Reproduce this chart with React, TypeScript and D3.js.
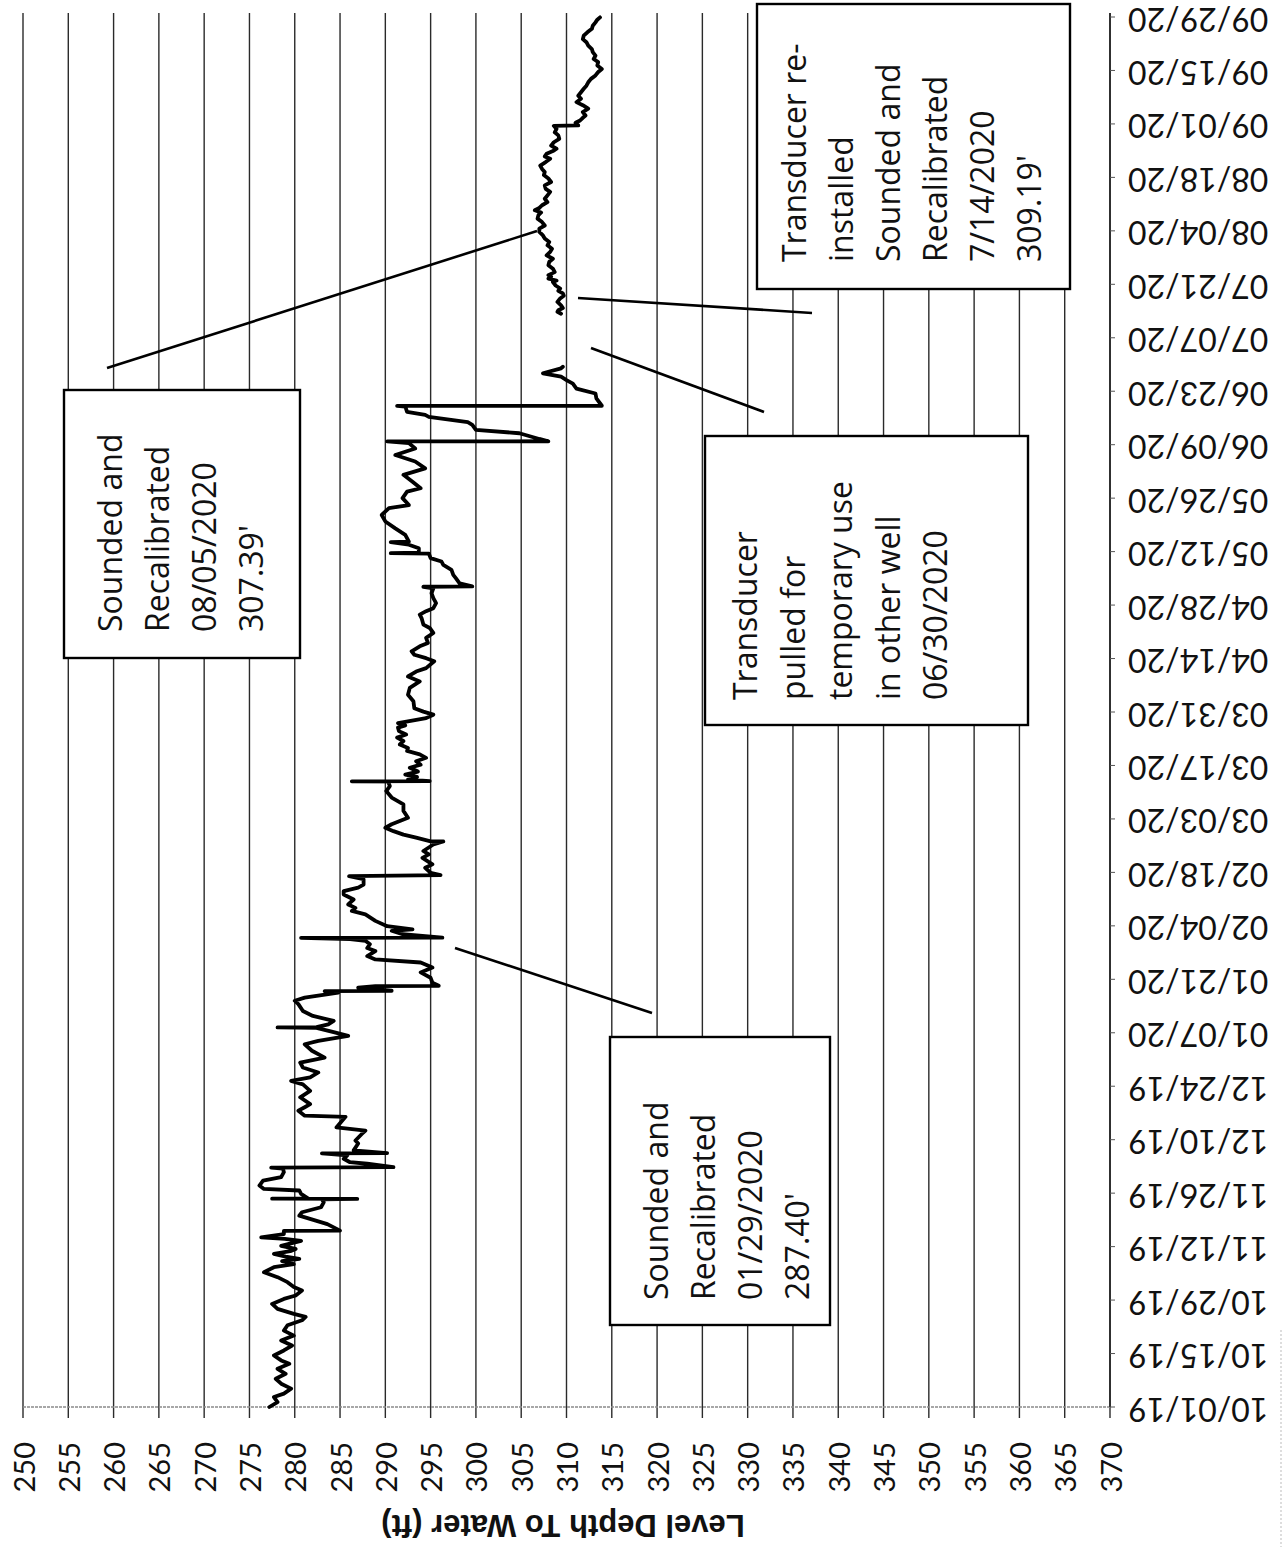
import React from 'react';
import * as d3 from 'd3';

// ---------- data ----------
const START_UTC = Date.UTC(2019, 9, 1);
const END_UTC = Date.UTC(2020, 8, 29);

const depthTickLabels = ['250','255','260','265','270','275','280','285','290','295','300','305','310','315','320','325','330','335','340','345','350','355','360','365','370'];

const dateTickLabels = ['10/01/19','10/15/19','10/29/19','11/12/19','11/26/19','12/10/19','12/24/19','01/07/20','01/21/20','02/04/20','02/18/20','03/03/20','03/17/20','03/31/20','04/14/20','04/28/20','05/12/20','05/26/20','06/09/20','06/23/20','07/07/20','07/21/20','08/04/20','08/18/20','09/01/20','09/15/20','09/29/20'];

// [days since 10/01/2019, depth to water (ft)] before transducer was pulled
const seriesBeforePull: [number, number][] = [
  [0, 277.2],[1.3, 278.1],[2.6, 277.7],[3.5, 278.8],[4.8, 279.6],[6.1, 278.5],[7.4, 277.9],[8.7, 279.0],[10.0, 278.1],[11.3, 279.4],[12.2, 278.5],[13.5, 277.7],[14.8, 278.8],[16.1, 279.7],[17.4, 278.5],[18.7, 279.9],[20.0, 278.8],[21.4, 279.2],[22.7, 280.8],[23.6, 281.2],[24.4, 279.9],[25.7, 278.1],[27.0, 277.5],[28.3, 278.8],[29.2, 280.1],[30.5, 280.8],[31.4, 279.9],[32.7, 279.2],[34.0, 278.1],[35.3, 276.6],[36.6, 277.7],[37.4, 279.9],[38.2, 278.6],[38.8, 280.5],[39.4, 279.0],[40.1, 277.7],[40.8, 279.5],[41.4, 280.1],[42.2, 278.5],[43.0, 279.8],[43.5, 280.7],[44.0, 278.9],[44.4, 276.3],[45.3, 278.8],[46.1, 278.8],[46.2, 285.0],[47.9, 283.6],[50.1, 280.5],[51.0, 280.8],[52.3, 282.9],[53.6, 283.2],[54.4, 283.0],[54.5, 286.9],[54.55, 277.5],[54.6, 281.5],[55.8, 280.7],[56.7, 280.5],[57.1, 276.6],[58.0, 276.1],[59.3, 276.5],[60.2, 278.5],[61.5, 278.8],[62.4, 278.7],[62.7, 277.4],[62.8, 290.9],[63.7, 288.0],[64.1, 286.1],[65.0, 285.4],[65.9, 285.8],[66.4, 283.0],[66.5, 290.2],[67.2, 286.5],[69.0, 287.0],[69.8, 286.7],[71.5, 287.4],[72.4, 287.8],
  [73.2, 284.6],[76.0, 285.6],[76.3, 281.1],[77.6, 280.4],[78.5, 281.1],[79.3, 281.7],[81.1, 280.6],[82.8, 281.7],[84.5, 280.9],[85.4, 279.6],[86.3, 281.7],[87.6, 282.6],[88.9, 280.9],[90.2, 280.6],[91.5, 283.3],[93.3, 281.9],[95.0, 281.1],[95.9, 282.6],[97.2, 285.9],[98.1, 284.4],[99.3, 282.4],[99.4, 278.1],[99.5, 282.4],[100.2, 283.7],[101.1, 284.3],[102.4, 282.0],[103.7, 280.9],[105.5, 280.4],[106.4, 280.0],[107.2, 281.1],[108.1, 283.7],[108.5, 284.8],[108.9, 283.3],[109.0, 290.7],[109.8, 287.0],[110.2, 288.9],[110.3, 295.9],[111.1, 295.2],[112.4, 295.0],[113.8, 293.9],[115.1, 295.2],[116.4, 293.9],[117.2, 288.9],[118.1, 288.0],[119.4, 288.9],[120.2, 288.0],[121.2, 288.3],[122.1, 287.8],[122.5, 286.1],[122.85, 280.7],[122.9, 296.3],[123.8, 291.9],[124.7, 290.7],[125.1, 293.0],[125.9, 290.2],[127.3, 288.9],[129.0, 287.8],[129.9, 286.3],[130.7, 286.7],[131.6, 285.9],[132.9, 286.5],[134.2, 285.4],[135.1, 285.4],[136.0, 287.0],[136.8, 287.6],[138.2, 287.6],[139.0, 286.0],[139.3, 296.1],[139.9, 295.0],[141.2, 294.4],[142.1, 295.2],[143.8, 294.1],
  [144.7, 294.8],[145.6, 294.2],[147.3, 295.3],[148.1, 296.4],[148.2, 294.9],[149.1, 293.4],[149.9, 292.0],[150.8, 290.9],[151.7, 290.0],[152.6, 290.7],[154.3, 292.5],[156.1, 292.0],[157.8, 292.0],[159.6, 290.7],[161.3, 290.1],[162.6, 290.5],[163.8, 290.3],[163.85, 286.3],[163.9, 294.9],[164.3, 292.5],[165.0, 293.5],[165.6, 292.2],[166.4, 293.6],[167.4, 292.7],[168.2, 293.9],[169.1, 293.4],[170.0, 294.5],[170.9, 293.8],[171.8, 292.4],[172.6, 292.5],[173.5, 291.6],[174.4, 292.0],[175.3, 291.3],[176.1, 292.3],[177.0, 291.5],[177.9, 291.4],[178.5, 292.2],[179.1, 291.4],[180.4, 294.5],[181.3, 295.3],[182.1, 294.2],[183.0, 293.2],[184.8, 293.1],[186.5, 292.5],[188.3, 292.7],[190.0, 293.8],[191.3, 292.5],[192.6, 293.4],[193.5, 294.5],[195.3, 295.4],[196.1, 294.5],[197.0, 293.2],[197.9, 292.9],[199.2, 293.8],[200.1, 294.7],[201.4, 294.5],[202.7, 295.3],[204.0, 294.9],[204.9, 294.2],[206.6, 294.0],[207.5, 293.8],[208.4, 294.5],[209.2, 295.3],[210.5, 295.6],[211.8, 295.3],[213.1, 295.1],[214.4, 295.3],[214.8, 294.2],[214.9, 299.6],[215.7, 298.2],[217.0, 297.8],[217.9, 297.5],[219.2, 297.3],[220.5, 296.4],
  [221.4, 296.2],[222.3, 295.0],[223.5, 294.8],[223.6, 290.6],[223.7, 293.7],[224.9, 293.7],[225.8, 292.6],[226.5, 290.6],[226.6, 292.6],[228.4, 292.2],[230.1, 291.1],[231.9, 290.0],[233.6, 289.6],[235.4, 290.4],[236.2, 292.6],[238.0, 291.9],[239.7, 292.4],[240.6, 293.9],[242.3, 293.0],[244.1, 292.0],[245.8, 294.4],[247.6, 293.3],[249.3, 291.1],[251.0, 293.3],[252.4, 292.6],[252.85, 290.2],[252.9, 308.0],[253.5, 307.0],[255.0, 304.8],[255.9, 300.0],[257.2, 299.6],[257.9, 299.1],[259.3, 294.8],[259.8, 294.4],[260.6, 292.4],[262.0, 292.2],[262.15, 291.3],[262.2, 313.9],[264.1, 313.3],[265.4, 313.2],[266.7, 311.1],[268.0, 310.7],[268.9, 310.0],[269.8, 309.4],[270.7, 307.4],[272.0, 309.4],[272.4, 309.6]
];

// after the transducer was re-installed
const seriesAfterReinstall: [number, number][] = [
  [286.3, 309.4],[286.8, 309.0],[287.2, 309.1],[287.8, 309.6],[288.5, 309.4],[289.4, 309.0],[290.3, 309.3],[291.0, 309.7],[291.6, 309.6],[292.3, 309.1],[292.9, 309.3],[293.7, 308.8],[294.6, 308.5],[295.0, 308.9],[295.5, 308.0],[296.0, 308.3],[296.4, 308.0],[297.2, 308.7],[298.1, 308.5],[299.0, 308.0],[299.9, 308.1],[300.7, 308.5],[301.6, 307.8],[302.5, 308.2],[303.3, 308.4],[304.2, 307.9],[305.1, 308.1],[306.0, 307.6],[306.8, 307.4],[307.7, 307.0],[308.6, 307.0],[309.4, 307.6],[310.3, 307.3],[311.2, 306.8],[312.1, 306.9],[312.8, 307.2],[313.4, 306.5],[314.0, 307.0],[314.7, 307.3],[315.5, 307.9],[316.4, 307.6],[317.3, 307.9],[318.2, 308.2],[319.0, 307.7],[319.9, 307.6],[320.8, 308.3],[321.7, 308.0],[322.6, 307.5],[323.4, 307.6],[324.2, 307.3],[325.1, 307.1],[326.0, 307.7],[326.9, 308.2],[327.5, 307.6],[328.2, 307.8],[328.9, 308.5],[329.5, 308.9],[330.3, 308.3],[331.2, 308.6],[332.1, 309.2],[333.0, 309.1],[333.8, 308.7],[334.7, 308.9],[335.5, 308.6],[335.6, 311.3],[336.3, 311.0],[336.9, 311.5],[337.6, 311.8],[338.2, 312.1],[339.1, 311.8],[340.0, 312.4],[340.9, 311.8],[341.7, 311.1],[342.6, 311.6],[343.4, 311.3],[344.3, 311.6],[345.2, 311.9],[346.0, 312.2],[346.9, 312.4],[347.8, 312.7],[348.7, 313.2],[349.6, 313.5],[350.4, 313.9],[351.3, 313.4],[352.2, 313.5],[353.0, 313.0],[353.9, 313.2],[354.8, 312.9],[355.6, 312.8],[356.5, 312.4],[357.4, 312.2],[358.2, 311.8],[359.1, 311.9],[360.0, 312.3],[360.9, 312.8],[361.7, 312.9],[362.6, 313.2],[363.3, 313.4],[363.9, 313.7]
];

const axisTitle = 'Level Depth To Water (ft)';

const annotationTexts: string[][] = [
  ['Sounded and', 'Recalibrated', '08/05/2020', "307.39'"],
  ['Transducer re-', 'installed', 'Sounded and', 'Recalibrated', '7/14/2020', "309.19'"],
  ['Transducer', 'pulled for', 'temporary use', 'in other well', '06/30/2020'],
  ['Sounded and', 'Recalibrated', '01/29/2020', "287.40'"],
];

// ---------- layout (pixels) ----------
const W = 1284;
const H = 1547;
const PLOT = { left: 23, right: 1110, top: 17, bottom: 1407 };
const FONT = "'Open Sans', 'DejaVu Sans', sans-serif";
const TICK_FONT = "Lato, 'Open Sans', sans-serif";

const annotationLayout = [
  { box: [64, 390, 300, 658], baseX: 122, step: 47, startY: 632, leader: [107, 368, 537, 231] },
  { box: [757, 4, 1070, 289], baseX: 806, step: 47, startY: 262, leader: [578, 298, 812, 313] },
  { box: [705, 436, 1028, 725], baseX: 757, step: 47.5, startY: 700, leader: [591, 348, 764, 412] },
  { box: [610, 1037, 830, 1325], baseX: 668, step: 47, startY: 1300, leader: [455, 948, 652, 1013] },
];

const toDate = (d: number) => new Date(START_UTC + d * 864e5);
const parseTick = d3.utcParse('%m/%d/%y');

export default function App() {
  const x = d3.scaleLinear().domain([250, 370]).range([PLOT.left, PLOT.right]);
  const y = d3.scaleUtc().domain([new Date(START_UTC), new Date(END_UTC)]).range([PLOT.bottom, PLOT.top]);

  const line = d3
    .line<[number, number]>()
    .x((p) => x(p[1]))
    .y((p) => y(toDate(p[0])));

  return (
    <svg
      width={W}
      height={H}
      viewBox={`0 0 ${W} ${H}`}
      style={{ position: 'absolute', left: 0, top: 0, background: '#fff' }}
      fontFamily={FONT}
    >
      <rect x={0} y={0} width={W} height={H} fill="#fff" />

      {/* vertical gridlines (depth) */}
      {depthTickLabels.map((t) => {
        const xv = x(+t);
        return (
          <g key={'g' + t}>
            <line x1={xv} x2={xv} y1={PLOT.top - 4} y2={PLOT.bottom} stroke="#2a2a2a" strokeWidth={1.4} />
            <line x1={xv} x2={xv} y1={PLOT.bottom} y2={PLOT.bottom + 11} stroke="#2a2a2a" strokeWidth={1.4} />
            <text
              transform={`translate(${xv},${1442}) rotate(-90)`}
              textAnchor="end"
              dominantBaseline="central"
              fontSize={29}
              fontFamily={TICK_FONT}
              fill="#111"
            >
              {t}
            </text>
          </g>
        );
      })}

      {/* bottom axis line */}
      <line x1={PLOT.left} x2={PLOT.right} y1={PLOT.bottom} y2={PLOT.bottom} stroke="#8a8a8a" strokeWidth={1.6} strokeDasharray="3 1" />

      {/* right (date) axis */}
      <line x1={PLOT.right} x2={PLOT.right} y1={PLOT.top - 4} y2={PLOT.bottom} stroke="#222" strokeWidth={1.6} />
      {dateTickLabels.map((t) => {
        const yv = y(parseTick(t) as Date);
        return (
          <g key={'d' + t}>
            <line x1={PLOT.right} x2={PLOT.right + 5} y1={yv} y2={yv} stroke="#555" strokeWidth={1} />
            <text
              transform={`translate(${1128},${yv + 3}) rotate(180)`}
              textAnchor="end"
              dominantBaseline="central"
              fontSize={32}
              fontFamily={TICK_FONT}
              fill="#111"
            >
              {t}
            </text>
          </g>
        );
      })}

      {/* axis title (upside down) */}
      <text
        transform={`translate(${563},${1525}) rotate(180)`}
        textAnchor="middle"
        dominantBaseline="central"
        fontSize={31}
        fontWeight="bold"
        fontFamily="'Liberation Sans', Arial, sans-serif"
        fill="#111"
      >
        {axisTitle}
      </text>

      {/* data */}
      <path d={line(seriesBeforePull) || ''} fill="none" stroke="#000" strokeWidth={3.8} strokeLinejoin="round" strokeLinecap="round" />
      <path d={line(seriesAfterReinstall) || ''} fill="none" stroke="#000" strokeWidth={3.8} strokeLinejoin="round" strokeLinecap="round" />

      {/* annotations */}
      {annotationLayout.map((a, i) => (
        <g key={'a' + i}>
          <line x1={a.leader[0]} y1={a.leader[1]} x2={a.leader[2]} y2={a.leader[3]} stroke="#000" strokeWidth={2.6} />
          <rect
            x={a.box[0]}
            y={a.box[1]}
            width={a.box[2] - a.box[0]}
            height={a.box[3] - a.box[1]}
            fill="#fff"
            stroke="#000"
            strokeWidth={2.4}
          />
          {annotationTexts[i].map((s, j) => (
            <text
              key={j}
              transform={`translate(${a.baseX + j * a.step},${a.startY}) rotate(-90)`}
              textAnchor="start"
              fontSize={32}
              fill="#111"
            >
              {s}
            </text>
          ))}
        </g>
      ))}

      {/* scan edge artifact */}
      <line x1={1281} x2={1281} y1={1330} y2={H} stroke="#bbb" strokeWidth={1} strokeDasharray="2 2" />
    </svg>
  );
}
